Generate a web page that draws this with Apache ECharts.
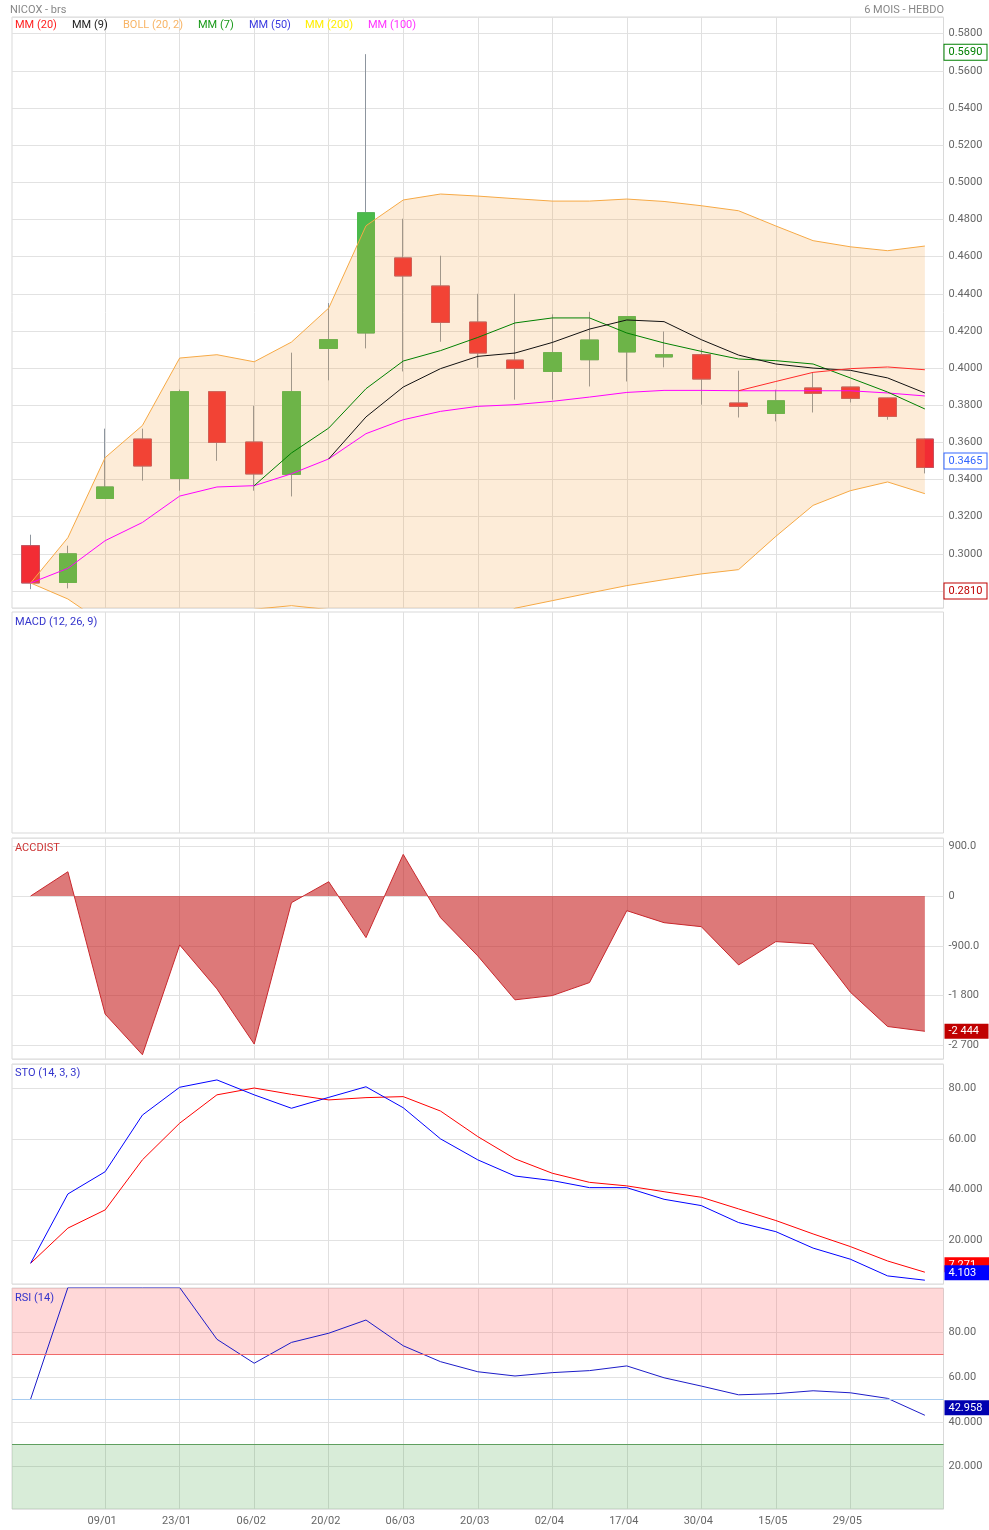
<!DOCTYPE html>
<html>
<head>
<meta charset="utf-8">
<title>NICOX - brs</title>
<script src="https://cdn.jsdelivr.net/npm/echarts@6/dist/echarts.min.js"></script>
<style>
  html, body { margin: 0; padding: 0; background: #fff; }
  #chart { width: 989px; height: 1530px; }
</style>
</head>
<body>
<div id="chart"></div>
<script>
// weekly dates
const dates = ['26/12', '02/01', '09/01', '16/01', '23/01', '30/01', '06/02', '13/02', '20/02', '27/02',
  '06/03', '13/03', '20/03', '27/03', '02/04', '10/04', '17/04', '24/04', '30/04', '07/05',
  '15/05', '22/05', '29/05', '05/06', '12/06'];

// candles
const opens  = [0.3044, 0.2846, 0.3298, 0.3618, 0.3406, 0.3873, 0.3602, 0.3428, 0.4106, 0.4189, 0.4593, 0.4442, 0.4248,
  0.4043, 0.3982, 0.4045, 0.4087, 0.4060, 0.4072, 0.3812, 0.3756, 0.3893, 0.3898, 0.3839, 0.3618];
const closes = [0.2843, 0.3000, 0.3360, 0.3473, 0.3873, 0.3600, 0.3430, 0.3873, 0.4153, 0.4836, 0.4496, 0.4246, 0.4081,
  0.3998, 0.4083, 0.4151, 0.4277, 0.4072, 0.3941, 0.3794, 0.3824, 0.3864, 0.3837, 0.3740, 0.3465];
const lows   = [0.2810, 0.2814, 0.3298, 0.3394, 0.3340, 0.3501, 0.3340, 0.3309, 0.3934, 0.4106, 0.3982, 0.4142, 0.4002,
  0.3830, 0.3830, 0.3901, 0.3928, 0.4004, 0.3803, 0.3734, 0.3713, 0.3761, 0.3815, 0.3722, 0.3433];
const highs  = [0.3103, 0.3044, 0.3674, 0.3674, 0.3884, 0.3873, 0.3797, 0.4083, 0.4350, 0.5690, 0.4804, 0.4605, 0.4400,
  0.4400, 0.4289, 0.4303, 0.4280, 0.4197, 0.4103, 0.3986, 0.3884, 0.3977, 0.3900, 0.3840, 0.3620];

// bollinger (20, 2)
const bollUp  = [0.2843, 0.3087, 0.3518, 0.3691, 0.4054, 0.4072, 0.4034, 0.4140, 0.4323, 0.4766, 0.4905, 0.4937, 0.4926,
  0.4912, 0.4899, 0.4899, 0.4910, 0.4897, 0.4874, 0.4847, 0.4765, 0.4686, 0.4653, 0.4632, 0.4657];
const bollLow = [0.2843, 0.2757, 0.2620, 0.2620, 0.2580, 0.2620, 0.2702, 0.2721, 0.2700, 0.2520, 0.2500, 0.2520, 0.2580,
  0.2707, 0.2748, 0.2789, 0.2829, 0.2861, 0.2892, 0.2915, 0.3094, 0.3261, 0.3340, 0.3387, 0.3324];

// moving averages
const mm20  = ['-', '-', '-', '-', '-', '-', '-', '-', '-', '-', '-', '-', '-', '-', '-', '-', '-', '-', '-',
  0.3878, 0.3928, 0.3977, 0.3997, 0.4006, 0.3991];
const mm9   = ['-', '-', '-', '-', '-', '-', '-', '-', 0.3511, 0.3737, 0.3898, 0.3997, 0.4063, 0.4081, 0.4138, 0.4210,
  0.4259, 0.4250, 0.4153, 0.4070, 0.4022, 0.4000, 0.3988, 0.3947, 0.3866];
const mm7   = ['-', '-', '-', '-', '-', '-', 0.3367, 0.3543, 0.3677, 0.3889, 0.4038, 0.4094, 0.4165, 0.4243, 0.4270,
  0.4270, 0.4189, 0.4135, 0.4090, 0.4049, 0.4040, 0.4022, 0.3947, 0.3871, 0.3780];
const mm100 = [0.2843, 0.2922, 0.3071, 0.3169, 0.3311, 0.3360, 0.3367, 0.3431, 0.3511, 0.3647, 0.3722, 0.3767, 0.3794,
  0.3803, 0.3821, 0.3844, 0.3869, 0.3880, 0.3880, 0.3878, 0.3878, 0.3878, 0.3878, 0.3866, 0.3850];

// indicators
const accdist = [0, 438, -2134, -2868, -884, -1678, -2675, -121, 258, -752, 752, -391, -1082, -1876, -1799, -1564,
  -265, -482, -554, -1245, -824, -866, -1737, -2358, -2444];
const stoK = [10.8, 38.2, 47.0, 69.4, 80.4, 83.3, 77.4, 72.1, 76.4, 80.6, 72.3, 60.0, 51.7, 45.3, 43.5, 40.7, 40.7,
  36.1, 33.6, 26.9, 23.3, 16.8, 12.4, 5.8, 4.103];
const stoD = [10.8, 24.7, 31.9, 51.7, 66.2, 77.4, 80.1, 77.6, 75.4, 76.3, 76.7, 71.0, 60.9, 52.1, 46.4, 42.8, 41.4,
  39.1, 36.9, 32.3, 27.7, 22.4, 17.4, 11.7, 7.271];
const rsi = [50.2, 100, 100, 100, 100, 76.9, 66.2, 75.5, 79.6, 85.5, 74.0, 66.9, 62.4, 60.5, 62.0, 62.9, 65.0, 59.7,
  56.0, 52.1, 52.6, 53.9, 53.0, 50.5, 42.958];
const rsiLevels = [70, 50, 30];

const legendNames = ['MM (20)', 'MM (9)', 'BOLL (20, 2)', 'MM (7)', 'MM (50)', 'MM (200)', 'MM (100)'];
const legendColors = ['#ff2020', '#222222', '#f8b465', '#1a9a1a', '#3a3ae0', '#ffee00', '#ff33ff'];
const legendLeft = [15, 72, 123, 198, 249, 305, 368];

const chart = echarts.init(document.getElementById('chart'));

const last = arr => arr[arr.length - 1];
const candles = dates.map((d, i) => [opens[i], closes[i], lows[i], highs[i]]);
const bodies = dates.map((d, i) => [opens[i], closes[i], Math.min(opens[i], closes[i]), Math.max(opens[i], closes[i])]);
const bollDiff = bollUp.map((v, i) => +(v - bollLow[i]).toFixed(4));

// only every second week gets a grid line / label
const showTick = i => i % 2 === 0 && i >= 2 && i <= 22;

function spaced(v) {
  const s = Math.abs(Math.round(v)).toString().replace(/\B(?=(\d{3})+(?!\d))/g, ' ');
  return (v < 0 ? '-' : '') + s;
}
const accFmt = v => v === 0 ? '0' : (Math.abs(v) >= 1000 ? spaced(v) : v.toFixed(1));
const pctFmt = v => v >= 50 ? v.toFixed(2) : v.toFixed(3);

function box(text, color, bg, border, valign, w) {
  return {
    show: true, position: 'end', distance: 1, formatter: text,
    color: color, backgroundColor: bg, borderColor: border || bg, borderWidth: border ? 1 : 0,
    padding: [2, 4, 1, 4], width: w, fontSize: 11, lineHeight: 12, fontFamily: 'Roboto',
    verticalAlign: valign || 'middle', align: 'left'
  };
}
const hidden = { color: 'rgba(0,0,0,0)', width: 0 };

const panels = [
  { top: 17, height: 591 },
  { top: 612, height: 221 },
  { top: 838, height: 221 },
  { top: 1064, height: 220 },
  { top: 1288, height: 221 }
];

const grids = panels.map(p => ({
  left: 12, width: 931.5, top: p.top, height: p.height,
  show: true, borderColor: '#d9d9d9', borderWidth: 1, backgroundColor: 'transparent'
}));

const xAxes = panels.map((p, i) => ({
  type: 'category', gridIndex: i, data: dates, boundaryGap: true,
  axisLine: { show: false }, axisTick: { show: false },
  axisLabel: { show: i === 4, interval: showTick, color: '#666', fontSize: 11, margin: 7, padding: [0, 6, 0, 0] },
  splitLine: { show: true, interval: showTick, alignWithLabel: true, lineStyle: { color: '#e0e0e0' } }
}));

const yBase = {
  type: 'value', position: 'right', scale: true,
  axisLine: { show: false }, axisTick: { show: false },
  axisLabel: { color: '#666', fontSize: 11, margin: 5, showMinLabel: false, showMaxLabel: false },
  splitLine: { lineStyle: { color: '#e2e2e2' } }
};
const yAxes = [
  Object.assign({}, yBase, { gridIndex: 0, min: 0.27085, max: 0.589, minInterval: 0.02, maxInterval: 0.02,
    axisLabel: Object.assign({}, yBase.axisLabel, { formatter: v => v.toFixed(4) }) }),
  { type: 'value', gridIndex: 1, show: false, min: 0, max: 1 },
  Object.assign({}, yBase, { gridIndex: 2, min: -2945, max: 1048, minInterval: 900, maxInterval: 900,
    axisLabel: Object.assign({}, yBase.axisLabel, { formatter: accFmt }) }),
  Object.assign({}, yBase, { gridIndex: 3, min: 2.6, max: 89.6, minInterval: 20, maxInterval: 20,
    axisLabel: Object.assign({}, yBase.axisLabel, { formatter: pctFmt }) }),
  Object.assign({}, yBase, { gridIndex: 4, min: 1.1, max: 99.8, minInterval: 20, maxInterval: 20,
    axisLabel: Object.assign({}, yBase.axisLabel, { formatter: pctFmt }) })
];

function line(data, color, x, extra) {
  return Object.assign({
    type: 'line', xAxisIndex: x, yAxisIndex: x, data: data, showSymbol: false, symbol: 'none',
    silent: true, animation: false, lineStyle: { color: color, width: 1 }
  }, extra || {});
}

const titleStyle = (color) => ({ color: color, fontSize: 11, fontWeight: 'normal', fontFamily: 'Roboto' });
const titles = [
  { text: 'NICOX - brs', left: 10, top: 5, padding: 0, textStyle: titleStyle('#888') },
  { text: '6 MOIS - HEBDO', right: 45, top: 5, padding: 0, textStyle: titleStyle('#888') },
  { text: 'MACD (12, 26, 9)', left: 15, top: 617, padding: 0, textStyle: titleStyle('#3333cc') },
  { text: 'ACCDIST', left: 15, top: 843, padding: 0, textStyle: titleStyle('#cc3333') },
  { text: 'STO (14, 3, 3)', left: 15, top: 1068, padding: 0, textStyle: titleStyle('#3333cc') },
  { text: 'RSI (14)', left: 15, top: 1293, padding: 0, textStyle: titleStyle('#3333cc') }
].concat(legendNames.map((n, i) => ({
  text: n, left: legendLeft[i], top: 20, padding: 0, textStyle: titleStyle(legendColors[i])
})));

const hi = Math.max(...highs), lo = Math.min(...lows), lastClose = last(closes);

const option = {
  animation: false,
  textStyle: { fontFamily: 'Roboto' },
  title: titles,
  grid: grids,
  xAxis: xAxes,
  yAxis: yAxes,
  series: [
    // bollinger fill
    line(bollLow, 'rgba(0,0,0,0)', 0, { stack: 'boll', lineStyle: hidden }),
    line(bollDiff, 'rgba(0,0,0,0)', 0, { stack: 'boll', lineStyle: hidden,
      areaStyle: { color: 'rgba(247,160,60,0.2)', opacity: 1 } }),
    {
      type: 'candlestick', xAxisIndex: 0, yAxisIndex: 0, data: candles, barWidth: 18, silent: true,
      itemStyle: { color: '#4bba4b', color0: '#f22c34', borderColor: '#8d959e', borderColor0: '#8d959e', borderWidth: 1 }
    },
    {
      type: 'candlestick', xAxisIndex: 0, yAxisIndex: 0, data: bodies, barWidth: 18, silent: true,
      itemStyle: { color: '#4bba4b', color0: '#f22c34', borderColor: '#4bba4b', borderColor0: '#c9505c', borderWidth: 1 }
    },
    line(bollUp, '#f6a945', 0, {
      markLine: {
        silent: true, symbol: ['none', 'none'], animation: false, lineStyle: hidden,
        data: [
          { yAxis: hi, label: box(hi.toFixed(4), '#008000', '#fff', '#008000', 'middle', 34) },
          { yAxis: lastClose, label: box(lastClose.toFixed(4), '#3366ff', '#fff', '#3366ff', 'middle', 34) },
          { yAxis: lo, label: box(lo.toFixed(4), '#c00000', '#fff', '#c00000', 'middle', 34) }
        ]
      }
    }),
    line(bollLow, '#f6a945', 0),
    line(mm100, '#ff00ff', 0),
    line(mm7, '#008000', 0),
    line(mm9, '#111111', 0),
    line(mm20, '#ff2a2a', 0),

    // accumulation / distribution
    line(accdist, '#c8282d', 2, {
      areaStyle: { color: 'rgba(196,24,24,0.58)', opacity: 1 },
      markLine: {
        silent: true, symbol: ['none', 'none'], animation: false, lineStyle: hidden,
        data: [{ yAxis: last(accdist), label: box(spaced(last(accdist)), '#fff', '#c00000', null, 'middle', 36) }]
      }
    }),

    // stochastic
    line(stoD, '#ff0000', 3, {
      markLine: {
        silent: true, symbol: ['none', 'none'], animation: false, lineStyle: hidden,
        data: [{ yAxis: last(stoD), label: box(last(stoD).toFixed(3), '#fff', '#ff0000', null, 'bottom', 37) }]
      }
    }),
    line(stoK, '#0000ff', 3, {
      markLine: {
        silent: true, symbol: ['none', 'none'], animation: false, lineStyle: hidden,
        data: [{ yAxis: last(stoK), label: box(last(stoK).toFixed(3), '#fff', '#0000ff', null, 'bottom', 37) }]
      }
    }),

    // rsi
    line(rsi, '#1c1cc8', 4, {
      markArea: {
        silent: true,
        data: [
          [{ yAxis: rsiLevels[0], itemStyle: { color: 'rgba(255,100,100,0.25)' } }, { yAxis: 100 }],
          [{ yAxis: 0, itemStyle: { color: 'rgba(60,160,60,0.2)' } }, { yAxis: rsiLevels[2] }]
        ]
      },
      markLine: {
        silent: true, symbol: ['none', 'none'], animation: false,
        data: [
          { yAxis: rsiLevels[0], lineStyle: { color: '#f06a6a', width: 1, type: 'solid' }, label: { show: false } },
          { yAxis: rsiLevels[1], lineStyle: { color: '#a8ccf0', width: 1, type: 'solid' }, label: { show: false } },
          { yAxis: rsiLevels[2], lineStyle: { color: '#5f9f5f', width: 1, type: 'solid' }, label: { show: false } },
          { yAxis: last(rsi), lineStyle: hidden, label: box(last(rsi).toFixed(3), '#fff', '#0000b0', null, 'bottom', 37) }
        ]
      }
    })
  ]
};

chart.setOption(option);
</script>
</body>
</html>
